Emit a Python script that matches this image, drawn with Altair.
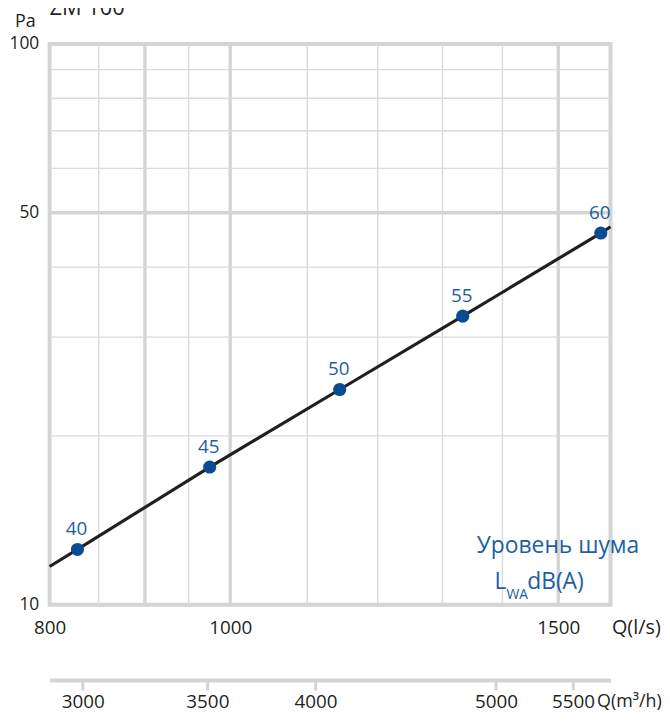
import altair as alt
import pandas as pd

# ---- data ----
curve_q = [800, 828, 975, 1145, 1333, 1581, 1600]          # l/s
curve_p = [11.7, 12.55, 17.6, 24.2, 32.7, 46.0, 47.2]      # Pa

noise_q = [828, 975, 1145, 1333, 1581]
noise_p = [12.55, 17.6, 24.2, 32.7, 46.0]
noise_db = ["40", "45", "50", "55", "60"]

x_domain = [800, 1600]
y_domain = [10, 100]
m3h_domain = [2880, 5760]
x_labels = [800, 1000, 1500]
y_labels = [10, 50, 100]
m3h_ticks = [3000, 3500, 4000, 5000, 5500]

grid_thin_q = [850, 950, 1100, 1200, 1300, 1400]
grid_thick_q = [900, 1000, 1500]
grid_thin_p = [20, 30, 40, 60, 70, 80, 90]
grid_thick_p = [50]

FONT = "Open Sans"
TXT = "#231f20"
BLUE = "#1d5ea3"
DOT = "#0a4c92"
GRID = "#dadada"
GRID_T = "#d4d4d4"

xs = alt.Scale(type="log", domain=x_domain, nice=False)
ys = alt.Scale(type="log", domain=y_domain, nice=False)

def df(**cols):
    return pd.DataFrame(cols)

Y_AXIS = alt.Axis(
    values=y_labels, format="d", grid=False, tickSize=0, tickOpacity=0,
    domainOpacity=0,
    labelFont=FONT, labelFontSize=17.5, labelColor=TXT, labelPadding=11,
    labelFlush=False, labelOverlap=False,
    title="Pa", titleFont=FONT, titleFontSize=18, titleFontWeight="normal",
    titleColor=TXT, titleAngle=0, titleX=-25, titleY=-18, titleAlign="center",
    titleBaseline="alphabetic",
)

def Y(field):
    return alt.Y(field, scale=ys, axis=Y_AXIS)

# invisible layer that carries the primary x axis
axes_layer = alt.Chart(df(q=x_labels, p=y_labels)).mark_point(opacity=0).encode(
    x=alt.X("q:Q", scale=xs, axis=alt.Axis(
        values=x_labels, format="d", grid=False, tickSize=0, tickOpacity=0,
        domainOpacity=0,
        labelFont=FONT, labelFontSize=19, labelColor=TXT, labelPadding=14,
        labelFlush=False, labelOverlap=False,
        title="Q(l/s)", titleFont=FONT, titleFontSize=20, titleFontWeight="normal",
        titleColor=TXT, titleX=567, titleY=13, titleAlign="left", titleBaseline="top",
    )),
    y=Y("p:Q"),
)

thin_v = alt.Chart(df(q=grid_thin_q)).mark_rule(color=GRID, strokeWidth=1.4).encode(
    x=alt.X("q:Q", scale=xs, axis=None)
)
thick_v = alt.Chart(df(q=grid_thick_q)).mark_rule(color=GRID_T, strokeWidth=3.4).encode(
    x=alt.X("q:Q", scale=xs, axis=None)
)
thin_h = alt.Chart(df(p=grid_thin_p)).mark_rule(color=GRID, strokeWidth=1.4).encode(
    y=Y("p:Q")
)
thick_h = alt.Chart(df(p=grid_thick_p)).mark_rule(color=GRID_T, strokeWidth=3.4).encode(
    y=Y("p:Q")
)

curve = alt.Chart(df(q=curve_q, p=curve_p)).mark_line(color=TXT, strokeWidth=3.2).encode(
    x=alt.X("q:Q", scale=xs, axis=None),
    y=Y("p:Q"),
)

pts_df = df(q=noise_q, p=noise_p, db=noise_db)
dots = alt.Chart(pts_df).mark_circle(color=DOT, opacity=1, size=175).encode(
    x=alt.X("q:Q", scale=xs, axis=None),
    y=Y("p:Q"),
)
dot_labels = alt.Chart(pts_df).mark_text(
    color=BLUE, font=FONT, fontSize=19, dy=-14.5, dx=-1, baseline="alphabetic", align="center"
).encode(
    x=alt.X("q:Q", scale=xs, axis=None),
    y=Y("p:Q"),
    text="db:N",
)

# annotation texts
note1 = alt.Chart(df(t=["Уровень шума"])).mark_text(
    color=BLUE, font=FONT, fontSize=23, align="right", baseline="alphabetic"
).encode(x=alt.value(595), y=alt.value(514), text="t:N")
note_L = alt.Chart(df(t=["L"])).mark_text(
    color=BLUE, font=FONT, fontSize=23, align="left", baseline="alphabetic"
).encode(x=alt.value(449), y=alt.value(550), text="t:N")
note_WA = alt.Chart(df(t=["WA"])).mark_text(
    color=BLUE, font=FONT, fontSize=14, align="left", baseline="alphabetic"
).encode(x=alt.value(461), y=alt.value(560), text="t:N")
note_dB = alt.Chart(df(t=["dB(A)"])).mark_text(
    color=BLUE, font=FONT, fontSize=23, align="left", baseline="alphabetic"
).encode(x=alt.value(482), y=alt.value(550), text="t:N")
title_txt = alt.Chart(df(t=["ZM 100"])).mark_text(
    color=TXT, font=FONT, fontSize=22, align="left", baseline="alphabetic"
).encode(x=alt.value(0), y=alt.value(-29), text="t:N")

# secondary axis in m3/h
sec = alt.Chart(df(m=m3h_ticks)).mark_rule(opacity=0).encode(
    x=alt.X("m:Q", scale=alt.Scale(type="log", domain=m3h_domain, nice=False), axis=alt.Axis(
        orient="bottom", offset=76, values=m3h_ticks, format="d", grid=False,
        domainColor=GRID_T, domainWidth=4, tickColor=GRID_T, tickWidth=3, tickSize=10,
        labelFont=FONT, labelFontSize=19, labelColor=TXT, labelPadding=3,
        labelFlush=False, labelOverlap=False,
        title="Q(m³/h)", titleFont=FONT, titleFontSize=18, titleFontWeight="normal",
        titleColor=TXT, titleX=552, titleY=13, titleAlign="left", titleBaseline="top",
    ))
)

chart = alt.layer(thin_v, thick_v, thin_h, thick_h, curve, dots, dot_labels,
                  note1, note_L, note_WA, note_dB, title_txt, axes_layer, sec
).resolve_scale(x="independent").properties(
    width=566, height=566,
    autosize=alt.AutoSizeParams(type="none"),
    padding={"left": 42, "top": 33, "right": 52, "bottom": 107},
    background="white",
).configure_view(stroke=GRID_T, strokeWidth=4)

chart.save("out.html", embed_options={"renderer": "svg", "actions": False})
